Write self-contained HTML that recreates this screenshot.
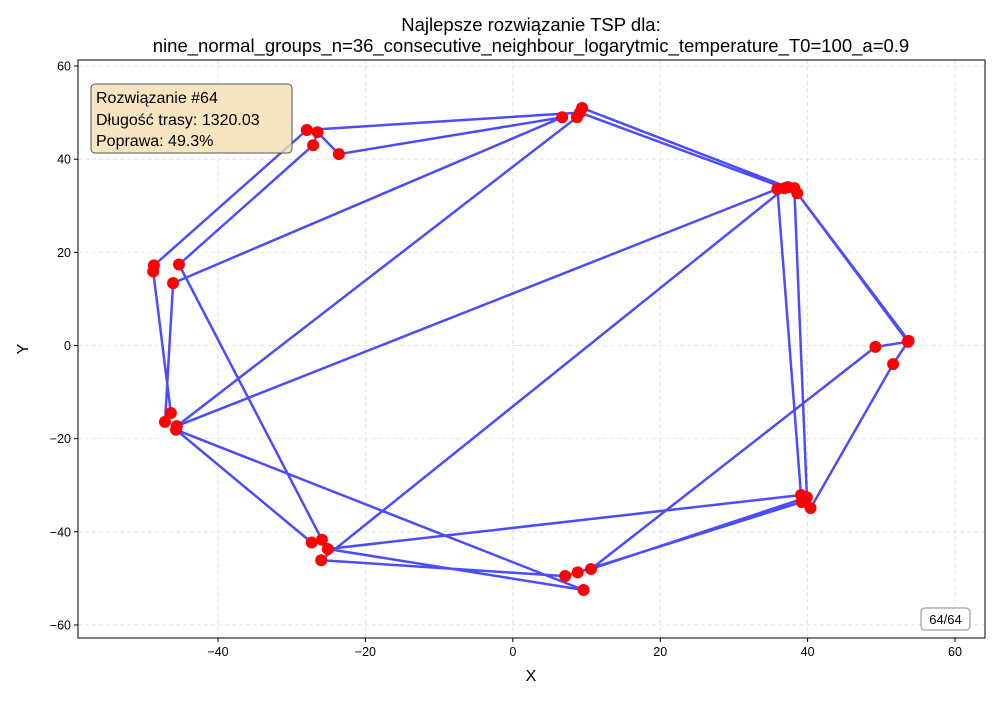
<!DOCTYPE html>
<html><head><meta charset="utf-8">
<style>
body{margin:0;background:#fff;}
svg text{font-family:"Liberation Sans","DejaVu Sans",sans-serif;}
</style></head>
<body>
<svg id="chart" width="1000" height="700" viewBox="0 0 1000 700" xmlns="http://www.w3.org/2000/svg">
<rect width="1000" height="700" fill="#fff"/>
<g id="grid"></g>
<g id="route"></g>
<g id="cities"></g>
<rect x="78" y="60" width="907" height="578" fill="none" stroke="#000" stroke-width="1"/>
<g id="ticks"></g>
<text x="531" y="31" text-anchor="middle" font-size="18.5">Najlepsze rozwiązanie TSP dla:</text>
<text x="531" y="52" text-anchor="middle" font-size="18.5">nine_normal_groups_n=36_consecutive_neighbour_logarytmic_temperature_T0=100_a=0.9</text>
<text x="531" y="681" text-anchor="middle" font-size="16">X</text>
<text x="28" y="349" text-anchor="middle" font-size="16" transform="rotate(-90 28 349)">Y</text>
<g>
<rect x="91" y="84" width="201" height="69" rx="4" fill="#f5deb3" fill-opacity="0.8" stroke="#555" stroke-width="1"/>
<text x="96" y="103" font-size="16">Rozwiązanie #64</text>
<text x="96" y="125" font-size="16">Długość trasy: 1320.03</text>
<text x="96" y="146" font-size="16">Poprawa: 49.3%</text>
</g>
<g>
<rect x="921" y="608" width="49" height="22" rx="4" fill="#fff" stroke="#888" stroke-width="1"/>
<text x="945.5" y="624" text-anchor="middle" font-size="13">64/64</text>
</g>
</svg>
<script>
// tour order of cities (x, y)
const tourX = [-27.95,-48.7,-48.8,-46.4,-47.2,-46.1,6.7,-23.6,-26.5,-27.1,-45.3,-25.9,-27.3,-45.7,9.6,-25.1,39.1,35.9,-45.6,8.7,9.4,37.3,38.2,39.9,10.6,49.2,53.6,38.6,53.7,51.6,40.4,39.2,8.8,7.1,-26.0,36.9,9.1];
const tourY = [46.26,17.2,15.9,-14.5,-16.4,13.4,49.0,41.1,45.8,43.0,17.4,-41.7,-42.3,-18.1,-52.5,-43.7,-32.1,33.6,-17.3,49.0,51.0,34.0,33.8,-32.6,-48.0,-0.3,0.8,32.7,1.0,-4.0,-34.9,-33.6,-48.7,-49.5,-46.1,33.8,50.0];
const xTicks = [-40,-20,0,20,40,60];
const yTicks = [-60,-40,-20,0,20,40,60];
const X0=78,X1=985,Y0=60,Y1=638, xmin=-59.0,xmax=64.07,ymin=-62.8,ymax=61.3;
function sx(v){return X0+(v-xmin)/(xmax-xmin)*(X1-X0);}
function sy(v){return Y1-(v-ymin)/(ymax-ymin)*(Y1-Y0);}
const NS="http://www.w3.org/2000/svg";
function mk(t,a){const e=document.createElementNS(NS,t);for(const k in a)e.setAttribute(k,a[k]);return e;}
const grid=document.getElementById('grid'),ticks=document.getElementById('ticks');
xTicks.forEach(v=>{
  const gl=mk('line',{x1:sx(v),x2:sx(v),y1:Y0,y2:Y1,stroke:'#ddd','stroke-dasharray':'4,3','stroke-width':0.8});
  
  
  grid.appendChild(gl);
  const tl=mk('line',{x1:sx(v),x2:sx(v),y1:Y1,y2:Y1+4,stroke:'#000'});
  
  
  ticks.appendChild(tl);
  const tx=mk('text',{x:sx(v),y:Y1+18,'text-anchor':'middle','font-size':12.5});
  tx.textContent=v<0?'\u2212'+Math.abs(v):v;
  
  
  ticks.appendChild(tx);
});
yTicks.forEach(v=>{
  const gl=mk('line',{x1:X0,x2:X1,y1:sy(v),y2:sy(v),stroke:'#ddd','stroke-dasharray':'4,3','stroke-width':0.8});
  
  
  grid.appendChild(gl);
  const tl=mk('line',{x1:X0-4,x2:X0,y1:sy(v),y2:sy(v),stroke:'#000'});
  
  
  ticks.appendChild(tl);
  const tx=mk('text',{x:X0-7,y:sy(v)+4.5,'text-anchor':'end','font-size':12.5});
  tx.textContent=v<0?'\u2212'+Math.abs(v):v;
  
  
  ticks.appendChild(tx);
});
let pts=tourX.map((x,i)=>sx(x).toFixed(1)+','+sy(tourY[i]).toFixed(1));
pts.push(pts[0]);
const pl=mk('polyline',{points:pts.join(' '),fill:'none',stroke:'#0000ff','stroke-opacity':0.7,'stroke-width':2.5,'stroke-linejoin':'round'});


document.getElementById('route').appendChild(pl);
const cities=document.getElementById('cities');
tourX.forEach((x,i)=>{
  const c=mk('circle',{cx:sx(x),cy:sy(tourY[i]),r:6,fill:'#ff0000'});
  
  
  cities.appendChild(c);
});
</script>
</body></html>
